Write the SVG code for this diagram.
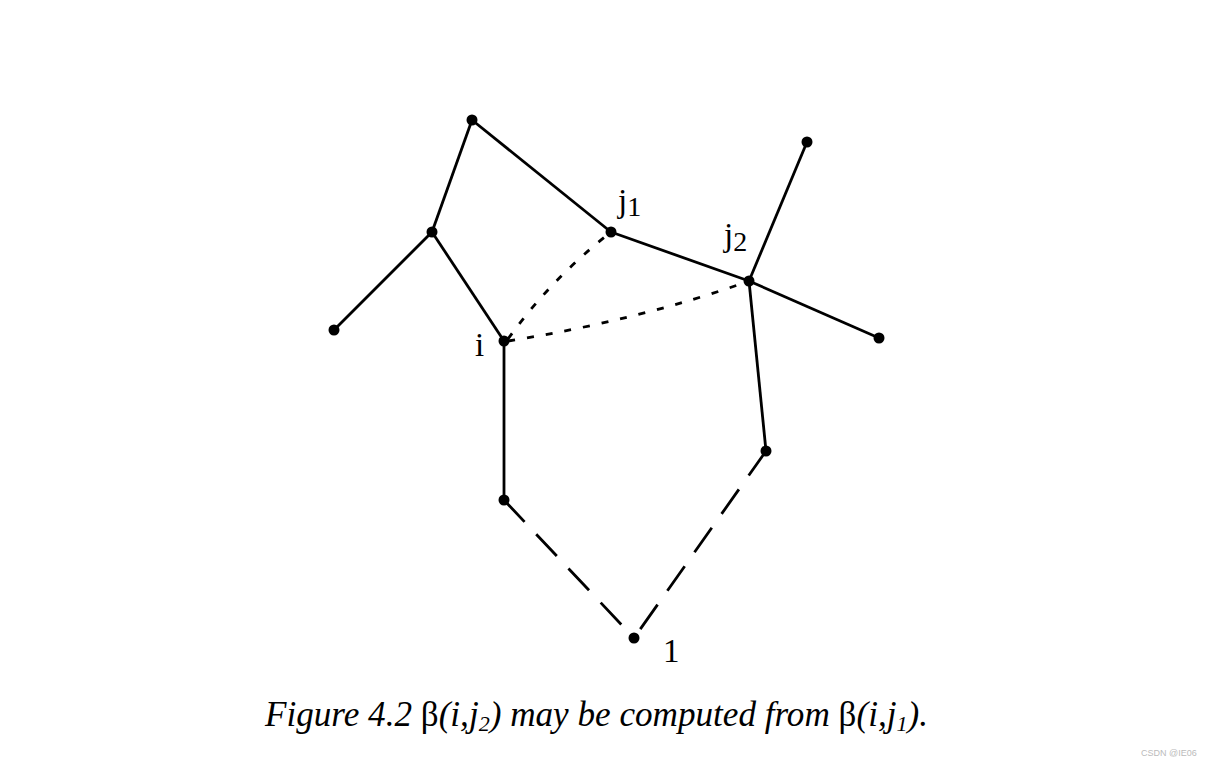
<svg xmlns="http://www.w3.org/2000/svg" width="1214" height="766" viewBox="0 0 1214 766">
<style>
.e{stroke:#000;stroke-width:2.8;fill:none}
.d{stroke:#000;stroke-width:2.8;fill:none;stroke-dasharray:30 17}
.o{stroke:#000;stroke-width:2.8;fill:none;stroke-dasharray:7 12}
.n{fill:#000}
.l{font-family:"Liberation Serif",serif;font-size:33px;fill:#000}
.s{font-size:28px}
.cap{font-family:"Liberation Serif",serif;font-size:35px;font-style:italic;fill:#000}
.cs{font-size:22px}
</style>
<rect width="1214" height="766" fill="#fff"/>
<g id="connectors">
<line class="e" x1="472" y1="120" x2="432" y2="232"/>
<line class="e" x1="472" y1="120" x2="611" y2="232"/>
<line class="e" x1="432" y1="232" x2="334" y2="330"/>
<line class="e" x1="432" y1="232" x2="504" y2="341"/>
<line class="e" x1="611" y1="232" x2="749" y2="281"/>
<line class="e" x1="749" y1="281" x2="807" y2="142"/>
<line class="e" x1="749" y1="281" x2="879" y2="338"/>
<line class="e" x1="749" y1="281" x2="766" y2="451"/>
<line class="e" x1="504" y1="341" x2="504" y2="500"/>
<line class="d" x1="504" y1="500" x2="634" y2="638"/>
<line class="d" x1="766" y1="451" x2="634" y2="638"/>
<path class="o" d="M508,339 Q550,280 611,232"/>
<path class="o" d="M508,341 Q640,320 749,281"/>
</g>
<g id="n-top"><circle class="n" cx="472" cy="120" r="5.5"/></g>
<g id="n-b"><circle class="n" cx="432" cy="232" r="5.5"/></g>
<g id="n-c"><circle class="n" cx="334" cy="330" r="5.5"/></g>
<g id="n-i"><circle class="n" cx="504" cy="341" r="5.5"/><text class="l" x="475" y="356">i</text></g>
<g id="n-j1"><circle class="n" cx="611" cy="232" r="5.5"/><text class="l" x="618" y="212">j<tspan class="s" dy="4">1</tspan></text></g>
<g id="n-j2"><circle class="n" cx="749" cy="281" r="5.5"/><text class="l" x="724" y="246">j<tspan class="s" dy="5">2</tspan></text></g>
<g id="n-d"><circle class="n" cx="807" cy="142" r="5.5"/></g>
<g id="n-e"><circle class="n" cx="879" cy="338" r="5.5"/></g>
<g id="n-f"><circle class="n" cx="504" cy="500" r="5.5"/></g>
<g id="n-g"><circle class="n" cx="766" cy="451" r="5.5"/></g>
<g id="n-root"><circle class="n" cx="634" cy="638" r="5.5"/><text class="l" x="663" y="662" font-size="35">1</text></g>
<text class="cap" x="265" y="726" textLength="663" lengthAdjust="spacingAndGlyphs">Figure 4.2 <tspan font-style="normal">β</tspan>(i,j<tspan class="cs" dy="5">2</tspan><tspan dy="-5">) may be computed from </tspan><tspan font-style="normal">β</tspan>(i,j<tspan class="cs" dy="5">1</tspan><tspan dy="-5">).</tspan></text>
<text x="1141" y="756" font-family="Liberation Sans,sans-serif" font-size="9" fill="#bbb">CSDN @IE06</text>
</svg>
